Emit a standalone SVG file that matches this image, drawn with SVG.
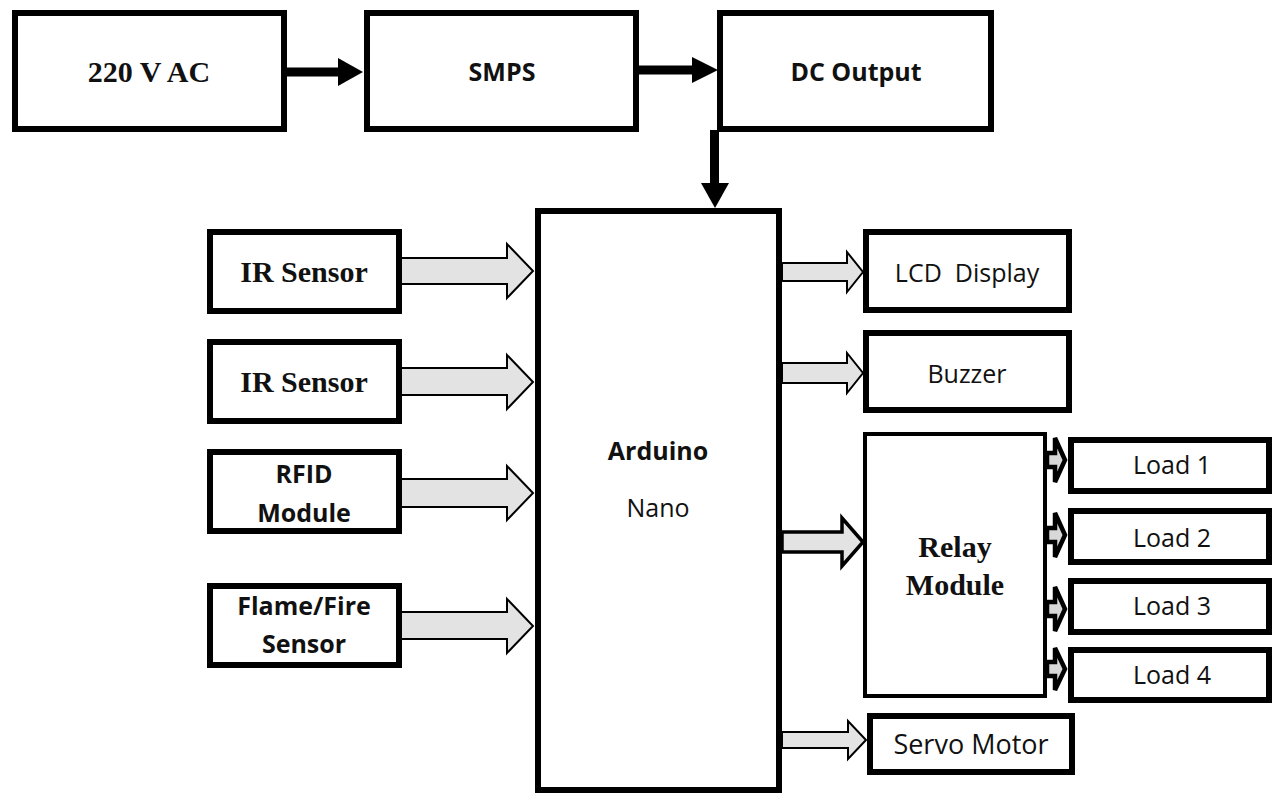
<svg xmlns="http://www.w3.org/2000/svg" width="1275" height="795" viewBox="0 0 1275 795">
<style>
.box{fill:#fff;stroke:#000;stroke-width:6}
.thin{fill:#fff;stroke:#000;stroke-width:4}
.blk{fill:#000;stroke:none}
.ga{fill:#e3e3e3;stroke:#000;stroke-width:2;stroke-linejoin:miter}
.gb{fill:#e3e3e3;stroke:#000;stroke-width:3.5;stroke-linejoin:miter}
.gl{fill:#d8d8d8;stroke:#000;stroke-width:4.5;stroke-linejoin:miter}
.serif{font-family:"Liberation Serif","Times New Roman",serif;font-weight:bold;font-size:30px;fill:#111;text-anchor:middle}
.sb{font-family:"Open Sans","Noto Sans",sans-serif;font-weight:bold;font-size:25px;fill:#111;text-anchor:middle}
.sr{font-family:"Open Sans","Noto Sans",sans-serif;font-size:25px;fill:#111;text-anchor:middle}
</style>
<rect width="1275" height="795" fill="#fff"/>
<g id="connectors">
  <rect class="blk" x="287" y="67.5" width="53" height="9"/>
  <polygon class="blk" points="338,58 363,72 338,86"/>
  <rect class="blk" x="639" y="65.5" width="55" height="9"/>
  <polygon class="blk" points="692,57 718,70 692,83"/>
  <rect class="blk" x="710" y="130" width="9" height="55"/>
  <polygon class="blk" points="701,183 729,183 715,208"/>
  <polygon class="ga" points="400,258 507,258 507,244 533,271 507,298 507,284 400,284"/>
  <polygon class="ga" points="400,368 507,368 507,355 533,382 507,409 507,395 400,395"/>
  <polygon class="ga" points="400,479 507,479 507,466 533,493 507,520 507,507 400,507"/>
  <polygon class="ga" points="400,612 507,612 507,599 533,626 507,653 507,639 400,639"/>
  <polygon class="ga" points="782,263 847,263 847,252 863,272 847,292 847,281 782,281"/>
  <polygon class="ga" points="782,363 847,363 847,353 863,373 847,393 847,383 782,383"/>
  <polygon class="gb" points="782,532 842,532 842,518 863,542 842,566 842,552 782,552"/>
  <polygon class="ga" points="782,732 848,732 848,721 866,740 848,759 848,748 782,748"/>
  <polygon class="gl" points="1047,453 1055,453 1055,438 1065,460 1055,482 1055,467 1047,467"/>
  <polygon class="gl" points="1047,528 1055,528 1055,513 1065,535 1055,557 1055,542 1047,542"/>
  <polygon class="gl" points="1047,602 1055,602 1055,587 1065,609 1055,631 1055,616 1047,616"/>
  <polygon class="gl" points="1047,662 1055,662 1055,648 1065,669 1055,690 1055,676 1047,676"/>
</g>
<g id="ac"><rect class="box" x="15" y="13" width="269" height="116"/><text class="serif" x="149" y="82">220 V AC</text></g>
<g id="smps"><rect class="box" x="367" y="13" width="269" height="116"/><text class="sb" x="502" y="81">SMPS</text></g>
<g id="dc"><rect class="box" x="720" y="13" width="271" height="116"/><text class="sb" x="856" y="81">DC Output</text></g>
<g id="arduino"><rect class="box" x="538" y="211" width="241" height="579"/><text class="sb" x="658" y="460">Arduino</text><text class="sr" x="658" y="517">Nano</text></g>
<g id="ir1"><rect class="box" x="210" y="232" width="189" height="79"/><text class="serif" x="304" y="282">IR Sensor</text></g>
<g id="ir2"><rect class="box" x="210" y="342" width="189" height="79"/><text class="serif" x="304" y="392">IR Sensor</text></g>
<g id="rfid"><rect class="box" x="210" y="452" width="189" height="79"/><text class="sb" x="304" y="483">RFID</text><text class="sb" x="304" y="522">Module</text></g>
<g id="flame"><rect class="box" x="210" y="586" width="189" height="79"/><text class="sb" x="304" y="615">Flame/Fire</text><text class="sb" x="304" y="653">Sensor</text></g>
<g id="lcd"><rect class="box" x="866" y="232" width="203" height="78"/><text class="sr" x="967" y="282" xml:space="preserve">LCD  Display</text></g>
<g id="buzzer"><rect class="box" x="866" y="333" width="203" height="77"/><text class="sr" x="967" y="383">Buzzer</text></g>
<g id="relay"><rect class="thin" x="865" y="434" width="180" height="262"/><text class="serif" x="955" y="557">Relay</text><text class="serif" x="955" y="595">Module</text></g>
<g id="load1"><rect class="box" x="1071" y="440" width="198" height="51"/><text class="sr" x="1172" y="474">Load 1</text></g>
<g id="load2"><rect class="box" x="1071" y="511" width="198" height="51"/><text class="sr" x="1172" y="547">Load 2</text></g>
<g id="load3"><rect class="box" x="1071" y="581" width="198" height="51"/><text class="sr" x="1172" y="615">Load 3</text></g>
<g id="load4"><rect class="box" x="1071" y="650" width="198" height="50"/><text class="sr" x="1172" y="684">Load 4</text></g>
<g id="servo"><rect class="box" x="870" y="716" width="202" height="56"/><text class="sr" x="971" y="754" style="font-size:27px">Servo Motor</text></g>
</svg>
